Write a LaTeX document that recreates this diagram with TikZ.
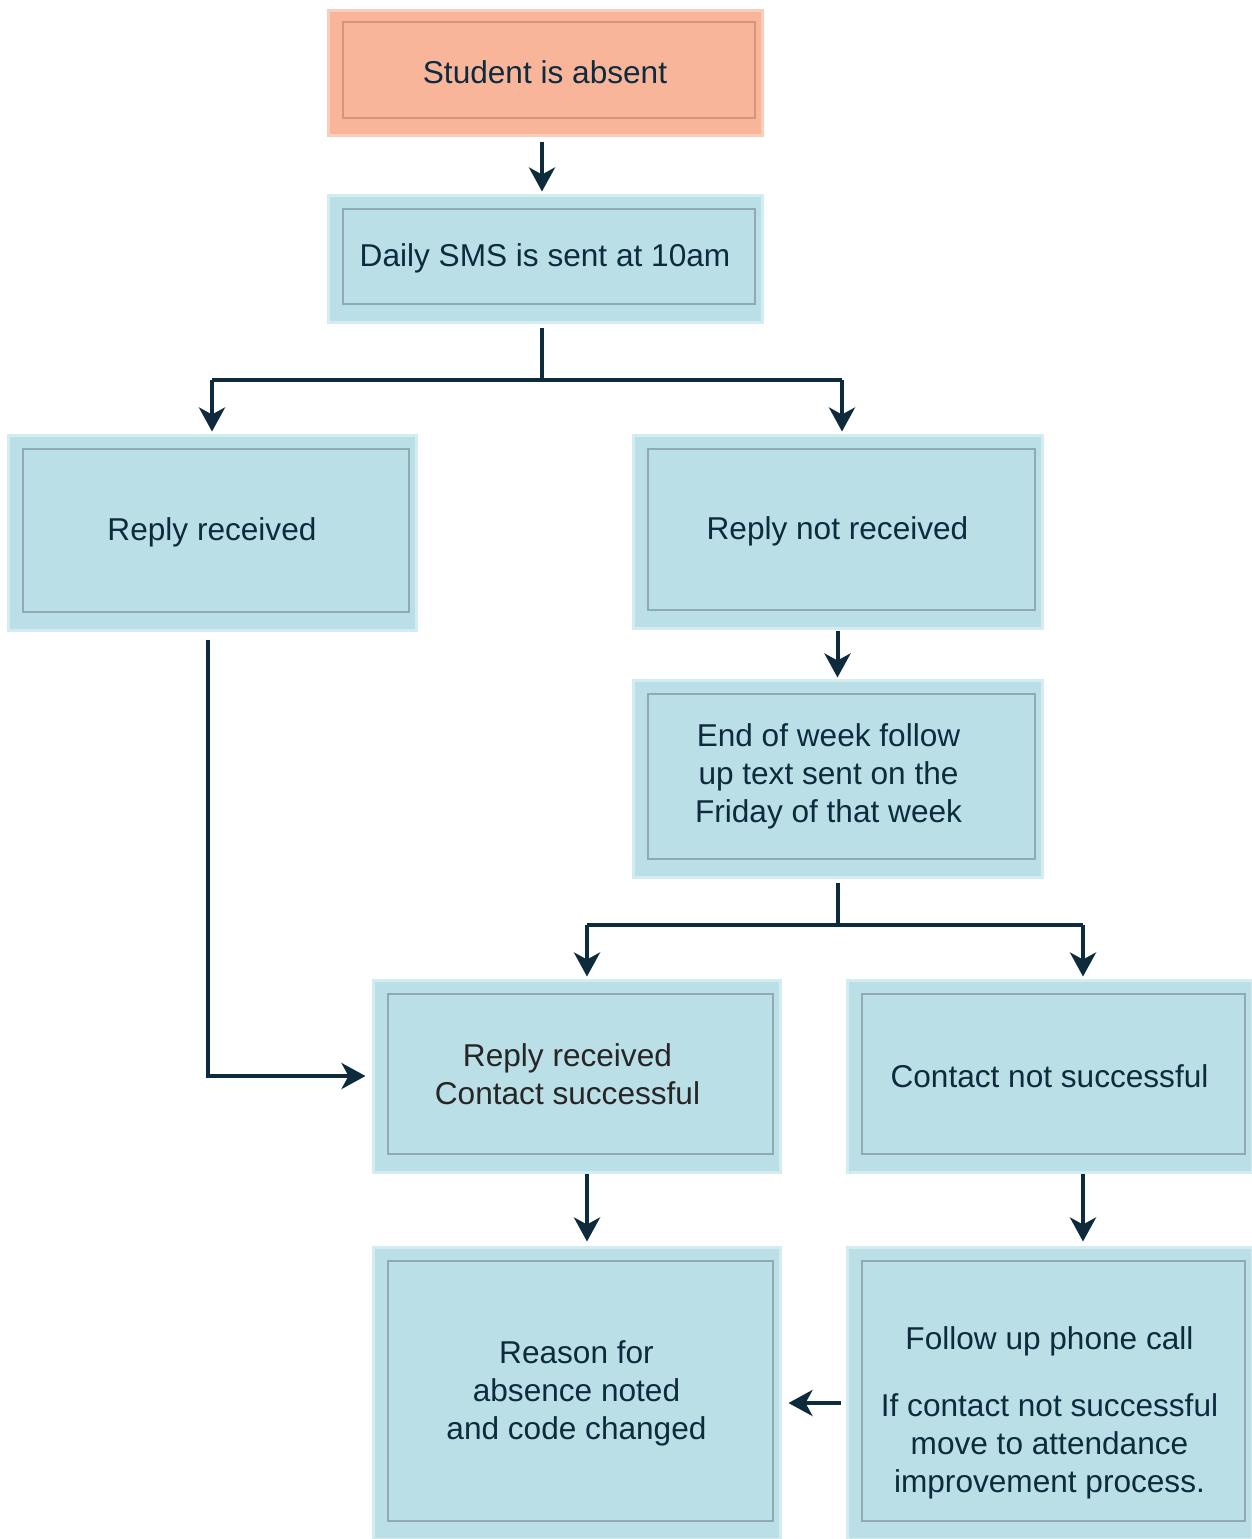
\documentclass[tikz,border=0pt]{standalone}
\usepackage{fontspec}
\setmainfont{Liberation Sans}
\usetikzlibrary{arrows.meta,calc}
\definecolor{navy}{HTML}{0E2B3E}
\definecolor{bluefill}{HTML}{BADFE7}
\definecolor{blueedge}{HTML}{D3ECF1}
\definecolor{blueline}{HTML}{8FAAB0}
\definecolor{orfill}{HTML}{F9B59A}
\definecolor{oredge}{HTML}{F9CDBB}
\definecolor{orline}{HTML}{D5957D}
\tikzset{
  flowbox/.style={rectangle, fill=bluefill, draw=blueedge, line width=1.5pt,
    inner sep=0pt, align=center, text=navy,
    font=\fontsize{15.8pt}{19pt}\selectfont,
    path picture={\draw[blueline, line width=0.6pt]
      ([xshift=7.5pt,yshift=-7pt]path picture bounding box.north west) rectangle
      ([xshift=-3.5pt,yshift=9pt]path picture bounding box.south east);}},
  startbox/.style={flowbox, fill=orfill, draw=oredge,
    path picture={\draw[orline, line width=0.6pt]
      ([xshift=7.5pt,yshift=-6pt]path picture bounding box.north west) rectangle
      ([xshift=-3.5pt,yshift=8.5pt]path picture bounding box.south east);}},
  txt/.style={align=center, text=navy, font=\fontsize{15.8pt}{19pt}\selectfont},
  arr/.style={draw=navy, line width=2pt,
    -{Stealth[length=12pt,width=13pt,inset=3.5pt]}},
  plain/.style={draw=navy, line width=2pt}
}
\begin{document}
\begin{tikzpicture}[x=0.5pt,y=-0.5pt]
\useasboundingbox (0,0) rectangle (1252,1539);
\fill[white] (0,0) rectangle (1252,1539);

\node[startbox, minimum width=217pt, minimum height=62.5pt] (a) at (545,72.5) {Student is absent};
\node[flowbox, minimum width=217pt, minimum height=63.5pt] (b) at (545,258.5) {Daily SMS is sent at 10am};
\node[flowbox, minimum width=204pt, minimum height=97.5pt] (c) at (212,532.5) {Reply received};
\node[flowbox, minimum width=204.5pt, minimum height=96.5pt] (d) at (837.5,531.5) {Reply not received};
\node[flowbox, minimum width=204.5pt, minimum height=98.5pt] (e) at (837.5,778.5) {};
\node[txt] (etext) at ([xshift=-4.5pt,yshift=1pt]e.center) {End of week follow\\up text sent on the\\Friday of that week};
\node[flowbox, minimum width=203.5pt, minimum height=96pt] (f) at (576.5,1076) {};
\node[txt, text=black!85] (ftext) at ([xshift=-4.5pt,yshift=1pt]f.center) {Reply received\\Contact successful};
\node[flowbox, minimum width=202.5pt, minimum height=96pt] (g) at (1049.5,1076) {Contact not successful};
\node[flowbox, minimum width=203.5pt, minimum height=146pt] (h) at (576.5,1393) {Reason for\\absence noted\\and code changed};
\node[flowbox, minimum width=202.5pt, minimum height=146pt] (i) at (1049.5,1393) {};
\node[txt] (itext) at ([yshift=-10pt]i.center) {Follow up phone call\\[14.5pt]If contact not successful\\move to attendance\\improvement process.};

\coordinate (j1) at (212,380);
\coordinate (j2) at (842,380);
\coordinate (j3) at (587,925);
\coordinate (j4) at (1083,925);

\draw[arr] ([xshift=-1.5pt,yshift=-2.5pt]a.south) -- ([xshift=-1.5pt,yshift=1pt]b.north);
\draw[plain] ([xshift=-1.5pt,yshift=-2pt]b.south) |- (j1);
\draw[arr] (j1) -- ([yshift=1pt]c.north -| j1);
\draw[plain] ([xshift=-1.5pt]b.south |- j1) -- (j2);
\draw[arr] (j2) -- ([yshift=1pt]d.north -| j2);
\draw[arr] ([yshift=-0.5pt]d.south) -- ([yshift=0.5pt]e.north);
\draw[plain] ([yshift=-2pt]e.south) |- (j3);
\draw[arr] (j3) -- ([yshift=1pt]f.north -| j3);
\draw[plain] (e.south |- j3) -- (j4);
\draw[arr] (j4) -- ([yshift=1pt]g.north -| j4);
\draw[arr] ([xshift=-2pt,yshift=-4pt]c.south) |- ([xshift=-3pt]f.west);
\draw[arr] (f.south -| j3) -- ([yshift=2pt]h.north -| j3);
\draw[arr] (g.south -| j4) -- ([yshift=2pt]i.north -| j4);
\draw[arr] ([xshift=-2.5pt,yshift=-5pt]i.west) -- ([xshift=3.5pt,yshift=-5pt]h.east);
\end{tikzpicture}
\end{document}
